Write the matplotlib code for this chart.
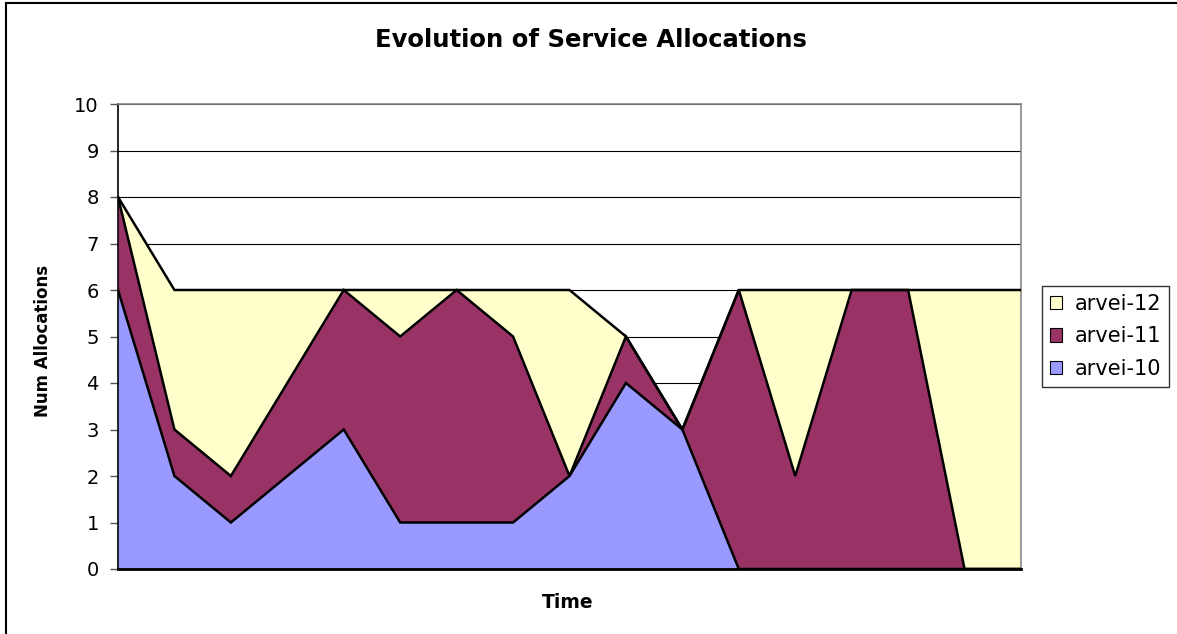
import matplotlib
matplotlib.use("Agg")
import matplotlib.pyplot as plt
from matplotlib.lines import Line2D
import numpy as np

plt.rcParams['font.family'] = ['DejaVu Sans']

time_points = list(range(17))
arvei_10 = [6, 2, 1, 2, 3, 1, 1, 1, 2, 4, 3, 0, 0, 0, 0, 0, 0]
arvei_11 = [2, 1, 1, 2, 3, 4, 5, 4, 0, 1, 0, 6, 2, 6, 6, 0, 0]
arvei_12 = [0, 3, 4, 2, 0, 1, 0, 1, 4, 0, 0, 0, 4, 0, 0, 6, 6]
series_names = ['arvei-10', 'arvei-11', 'arvei-12']
colors = ['#9999FF', '#993366', '#FFFFCC']
yticks = list(range(0, 11))

W, H = 1177, 634
fig = plt.figure(figsize=(W / 100, H / 100), dpi=100)
ax = fig.add_axes([118 / W, 1 - 569 / H, (1021 - 118) / W, (569 - 104) / H])

x = np.array(time_points)
s1 = np.array(arvei_10)
s2 = s1 + np.array(arvei_11)
s3 = s2 + np.array(arvei_12)

for y in yticks[1:]:
    ax.axhline(y, color='black', lw=0.8, zorder=1)

ax.fill_between(x, 0, s1, color=colors[0], lw=0, zorder=2)
ax.fill_between(x, s1, s2, color=colors[1], lw=0, zorder=2)
ax.fill_between(x, s2, s3, color=colors[2], lw=0, zorder=2)
for s in (s1, s2, s3):
    ax.plot(x, s, color='black', lw=1.8, zorder=3, solid_joinstyle='miter')

ax.set_xlim(0, 16)
ax.set_ylim(0, 10)
ax.set_yticks(yticks)
ax.set_yticklabels([str(t) for t in yticks], fontsize=14)
ax.tick_params(axis='y', direction='out', length=5.8, width=1, pad=8, color='#555555')
ax.set_xticks([])

for side in ['top', 'right']:
    ax.spines[side].set_color('#888888')
    ax.spines[side].set_linewidth(1.2)
ax.spines['left'].set_color('black')
ax.spines['left'].set_linewidth(1.2)
ax.spines['bottom'].set_color('black')
ax.spines['bottom'].set_linewidth(2)

fig.text(591 / W, 1 - 40 / H, 'Evolution of Service Allocations', ha='center', va='center',
         fontsize=17.5, fontweight='bold')
fig.text(43 / W, 1 - 341 / H, 'Num Allocations', ha='center', va='center', rotation=90,
         fontsize=12, fontweight='bold')
fig.text(568 / W, 1 - 603 / H, 'Time', ha='center', va='center', fontsize=13.5,
         fontweight='bold')

handles = [plt.Rectangle((0, 0), 1, 1, facecolor=colors[i], edgecolor='black', lw=0.8)
           for i in [2, 1, 0]]
labels = [series_names[i] for i in [2, 1, 0]]
leg = fig.legend(handles, labels, loc='upper left', bbox_to_anchor=(1042 / W, 1 - 286 / H),
                 fontsize=15, frameon=True, fancybox=False, handlelength=0.6,
                 handleheight=0.6, handletextpad=0.6, borderpad=0.38, labelspacing=0.6,
                 borderaxespad=0)
leg.get_frame().set_edgecolor('black')
leg.get_frame().set_linewidth(1)

fig.add_artist(Line2D([6 / W, 6 / W], [0, 1 - 3 / H], color='black', lw=1.5,
                      transform=fig.transFigure))
fig.add_artist(Line2D([6 / W, 1], [1 - 3 / H, 1 - 3 / H], color='black', lw=1.5,
                      transform=fig.transFigure))

fig.savefig('out.png', dpi=100, facecolor='white')
